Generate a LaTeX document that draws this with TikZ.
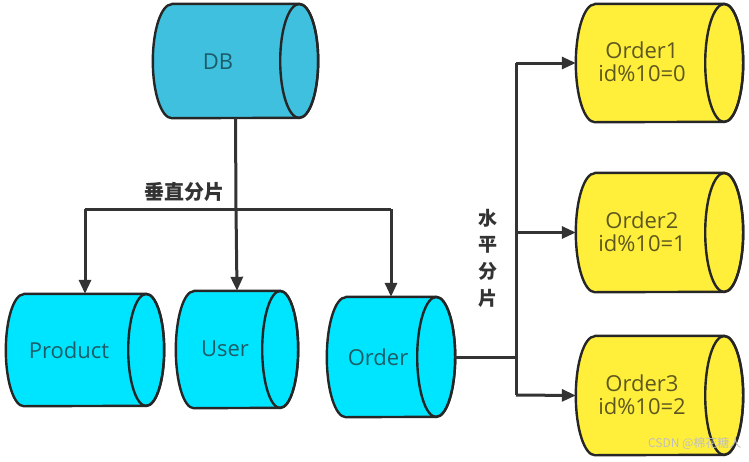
\documentclass[tikz,border=0pt]{standalone}
\usepackage{fontspec}
\setmainfont{Open Sans}
\newfontfamily\cjk{Noto Sans CJK SC}
\usetikzlibrary{arrows.meta}
\definecolor{dbfill}{HTML}{3EC0DE}
\definecolor{cyfill}{HTML}{00E5FF}
\definecolor{yefill}{HTML}{FFEF3A}
\definecolor{edge}{HTML}{262626}
\definecolor{linec}{HTML}{333333}
\definecolor{cytext}{HTML}{1C5C68}
\definecolor{yetext}{HTML}{5E5820}
\tikzset{
  cylbox/.style={rectangle, inner sep=0pt, draw=none},
  cylline/.style={draw=edge, line width=2.4pt, line join=round},
  lbl/.style={font=\fontsize{22}{26}\selectfont, align=center},
  conn/.style={draw=linec, line width=3pt, -{Triangle[length=14pt,width=12pt]}},
  plain/.style={draw=linec, line width=3pt},
}
% #1 node name, #2 fill colour, #3 x radius (pt), #4 y radius (pt)
\newcommand\hcylshape[4]{%
  \path[cylline, fill=#2] ([xshift=#3pt]#1.north west) -- ([xshift=-#3pt]#1.north east)
    arc[start angle=90, end angle=-90, x radius=#3pt, y radius=#4pt]
    -- ([xshift=#3pt]#1.south west)
    arc[start angle=270, end angle=90, x radius=#3pt, y radius=#4pt] -- cycle;
  \path[cylline] ([xshift=-#3pt]#1.east) ellipse[x radius=#3pt, y radius=#4pt];
}
\begin{document}
\begin{tikzpicture}[x=1pt,y=-1pt]
\useasboundingbox (0,0) rectangle (749,461);
% cylinder boxes
\node[cylbox, minimum width=165pt, minimum height=114pt] (db) at (235.5,61) {};
\node[cylbox, minimum width=158pt, minimum height=112pt] (prod) at (85,350) {};
\node[cylbox, minimum width=122pt, minimum height=117pt] (user) at (237,349.5) {};
\node[cylbox, minimum width=128pt, minimum height=120pt] (ord) at (391,357) {};
\node[cylbox, minimum width=167pt, minimum height=118pt] (o1) at (659.5,63) {};
\node[cylbox, minimum width=167pt, minimum height=119pt] (o2) at (659.5,232.5) {};
\node[cylbox, minimum width=167pt, minimum height=119pt] (o3) at (659.5,395.5) {};
\hcylshape{db}{dbfill}{19}{57}
\hcylshape{prod}{cyfill}{18}{56}
\hcylshape{user}{cyfill}{18}{58.5}
\hcylshape{ord}{cyfill}{19}{60}
\hcylshape{o1}{yefill}{19}{59}
\hcylshape{o2}{yefill}{19}{59.5}
\hcylshape{o3}{yefill}{19}{59.5}
% texts
\node[lbl, text=cytext] (tdb) at (218,62) {DB};
\node[lbl, text=cytext] (tprod) at (69,350) {Product};
\node[lbl, text=cytext] (tuser) at (225,349) {User};
\node[lbl, text=cytext] (tord) at (378,357) {Order};
\node[lbl, text=yetext] (to1) at (642,62) {Order1\\[-3pt]id\%10=0};
\node[lbl, text=yetext] (to2) at (642,232) {Order2\\[-3pt]id\%10=1};
\node[lbl, text=yetext] (to3) at (642,395) {Order3\\[-3pt]id\%10=2};
% vertical split
\coordinate (j) at (236,209);
\coordinate (jl) at (85,209);
\coordinate (jr) at (391,209);
\draw[plain] (db.south) -- (j);
\draw[plain] (jl) -- (jr);
\draw[conn] (jl) -- (prod.north);
\draw[conn] (j) -- (user.north);
\draw[conn] (jr) -- (ord.north);
\node[font=\cjk\bfseries\fontsize{20}{22}\selectfont, text=linec] (vlabel) at (184,192) {垂直分片};
% horizontal split
\coordinate (h) at (516,357);
\coordinate (ht) at (516,63);
\coordinate (hm) at (516,232.5);
\coordinate (hb) at (516,395);
\draw[plain] (ord.east) -- (h);
\draw[plain] (ht) -- (hb);
\draw[conn] (ht) -- (o1.west);
\draw[conn] (hm) -- (o2.west);
\draw[conn] (hb) -- (o3.west);
\node[font=\cjk\bfseries\fontsize{19}{26.7}\selectfont, text=linec, align=center] (hlabel) at (488,258) {水\\平\\分\\片};
% watermark
\node[font=\cjk\fontsize{12}{14}\selectfont, text=black!25, anchor=east] (wm) at (745,443) {CSDN @棉花糖人};
\end{tikzpicture}
\end{document}
